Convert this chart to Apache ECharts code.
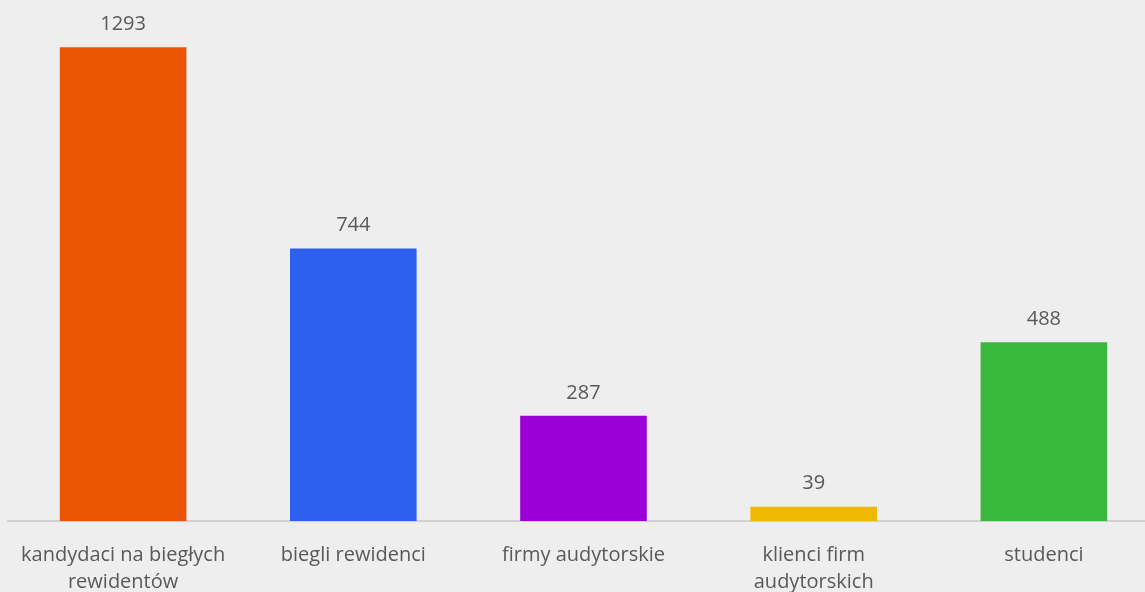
<!DOCTYPE html>
<html>
<head>
<meta charset="utf-8">
<script src="https://cdn.jsdelivr.net/npm/echarts@6/dist/echarts.min.js"></script>
<style>
  html, body { margin: 0; padding: 0; background: #eeeeee; }
  #chart { width: 1145px; height: 592px; }
</style>
</head>
<body>
<div id="chart"></div>
<script>
const categories = ['kandydaci na biegłych\nrewidentów', 'biegli rewidenci', 'firmy audytorskie', 'klienci firm\naudytorskich', 'studenci']
const values = [1293, 744, 287, 39, 488]
const colors = ['#ea5504', '#2e60f0', '#9b00d8', '#f0b800', '#38b83c']

const textColor = '#595959'
const fontFamily = '"Open Sans", Lato, sans-serif'

const myChart = echarts.init(document.getElementById('chart'))
myChart.setOption({
  backgroundColor: '#eeeeee',
  animation: false,
  grid: {
    left: 8,
    right: -14,
    top: 8,
    bottom: 71,
    outerBoundsMode: 'none'
  },
  xAxis: {
    type: 'category',
    data: categories,
    axisLine: { lineStyle: { color: '#d0d0d0', width: 2 } },
    axisTick: { show: false },
    axisLabel: {
      color: textColor,
      fontFamily: fontFamily,
      fontSize: 20,
      lineHeight: 27,
      margin: 21,
      interval: 0
    }
  },
  yAxis: {
    type: 'value',
    min: 0,
    max: 1400,
    show: false,
    splitLine: { show: false }
  },
  series: [
    {
      type: 'bar',
      barWidth: '55%',
      data: values.map((v, i) => ({ value: v, itemStyle: { color: colors[i] } })),
      label: {
        show: true,
        position: 'top',
        distance: 13,
        color: textColor,
        fontFamily: fontFamily,
        fontSize: 20
      }
    }
  ]
})
</script>
</body>
</html>
